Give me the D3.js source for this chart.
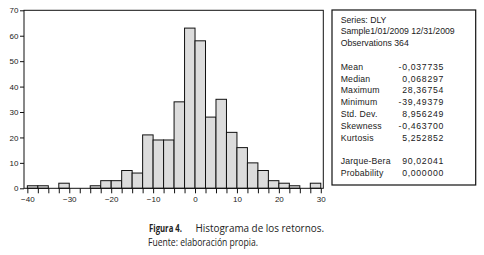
<!DOCTYPE html>
<html>
<head>
<meta charset="utf-8">
<script src="https://cdn.jsdelivr.net/npm/d3@7"></script>
<style>
  body { margin: 0; background: #fff; }
  svg { display: block; }
  .tick-label { font-family: "Liberation Sans", Arial, sans-serif; font-size: 8px; fill: #222; }
  .stat { font-family: "Liberation Sans", Arial, sans-serif; font-size: 8.7px; fill: #1a1a1a; }
  .caption { font-family: "Open Sans", "Liberation Sans", sans-serif; font-size: 11px; fill: #222; }
</style>
</head>
<body>
<div id="wrapper"></div>
<script>
// histogram of daily returns (bins of 2.5)
const binStarts = [
  -40, -37.5, -35, -32.5, -30, -27.5, -25, -22.5, -20, -17.5,
  -15, -12.5, -10, -7.5, -5, -2.5, 0, 2.5, 5, 7.5,
  10, 12.5, 15, 17.5, 20, 22.5, 25, 27.5,
];
const counts = [
  1, 1, 0, 2, 0, 0, 1, 3, 3, 7,
  6, 21, 19, 19, 34, 63, 58, 28, 35, 22,
  16, 10, 7, 3, 2, 1, 0, 2,
];
const binWidth = 2.5;
const xTickLabels = [-40, -30, -20, -10, 0, 10, 20, 30];
const yTickLabels = [0, 10, 20, 30, 40, 50, 60, 70];

// statistics panel
const headerLines = ["Series: DLY", "Sample1/01/2009 12/31/2009", "Observations 364"];
const statNames = ["Mean", "Median", "Maximum", "Minimum", "Std. Dev.", "Skewness", "Kurtosis"];
const statValues = ["-0,037735", "0,068297", "28,36754", "-39,49379", "8,956249", "-0,463700", "5,252852"];
const testNames = ["Jarque-Bera", "Probability"];
const testValues = ["90,02041", "0,000000"];

const captionBold = "Figura 4.";
const captionTitle = "Histograma de los retornos.";
const captionSource = "Fuente: elaboración propia.";

// dimensions
const width = 484;
const height = 255;
const plot = { left: 24, right: 323.3, top: 10.3, bottom: 188.3 };

const svg = d3.select("#wrapper")
  .append("svg")
    .attr("width", width)
    .attr("height", height);

// scales
const xScale = d3.scaleLinear()
  .domain([-40.8, 30.6])
  .range([plot.left, plot.right]);

const yScale = d3.scaleLinear()
  .domain([0, 70])
  .range([plot.bottom, plot.top]);

// bars
svg.append("g")
  .selectAll("rect")
  .data(binStarts)
  .join("rect")
    .attr("x", d => xScale(d))
    .attr("y", (d, i) => yScale(counts[i]))
    .attr("width", d => xScale(d + binWidth) - xScale(d))
    .attr("height", (d, i) => yScale(0) - yScale(counts[i]))
    .attr("fill", "#dcdcdc")
    .attr("stroke", "#111")
    .attr("stroke-width", 1)
    .attr("display", (d, i) => counts[i] > 0 ? null : "none");

// frame
svg.append("rect")
  .attr("x", plot.left)
  .attr("y", plot.top)
  .attr("width", plot.right - plot.left)
  .attr("height", plot.bottom - plot.top)
  .attr("fill", "none")
  .attr("stroke", "#111")
  .attr("stroke-width", 1);

// x axis: a tick at every bin edge, labels every 10
const xTicks = binStarts.concat([binStarts[binStarts.length - 1] + binWidth]);
const xAxis = d3.axisBottom(xScale)
  .tickValues(xTicks)
  .tickSize(5)
  .tickFormat(d => xTickLabels.includes(d) ? d3.format("")(d) : "");
svg.append("g")
  .attr("transform", `translate(0, ${plot.bottom})`)
  .call(xAxis)
  .call(g => g.select(".domain").remove())
  .call(g => g.selectAll("line").attr("stroke", "#111"))
  .call(g => g.selectAll("text")
    .attr("class", "tick-label")
    .attr("font-family", null)
    .attr("font-size", null)
    .attr("y", 8));

// y axis
const yAxis = d3.axisLeft(yScale)
  .tickValues(yTickLabels)
  .tickSize(4)
  .tickPadding(1.5);
svg.append("g")
  .attr("transform", `translate(${plot.left}, 0)`)
  .call(yAxis)
  .call(g => g.select(".domain").remove())
  .call(g => g.selectAll("line").attr("stroke", "#111"))
  .call(g => g.selectAll("text")
    .attr("class", "tick-label")
    .attr("font-family", null)
    .attr("font-size", null));

// statistics box
const box = { left: 332, right: 475.7, top: 10, bottom: 185 };
const textX = 340.7;
const valueX = 444;
const lineStep = 11.8;
const firstBaseline = 22.5;

svg.append("rect")
  .attr("x", box.left)
  .attr("y", box.top)
  .attr("width", box.right - box.left)
  .attr("height", box.bottom - box.top)
  .attr("fill", "none")
  .attr("stroke", "#111")
  .attr("stroke-width", 1.2);

const lineY = i => firstBaseline + i * lineStep;

svg.append("g")
  .selectAll("text")
  .data(headerLines)
  .join("text")
    .attr("class", "stat")
    .attr("x", textX)
    .attr("y", (d, i) => lineY(i))
    .text(d => d);

const statsStart = headerLines.length + 1;
const statsGroup = svg.append("g");
statsGroup.selectAll(".stat-name")
  .data(statNames)
  .join("text")
    .attr("class", "stat stat-name")
    .attr("x", textX)
    .attr("y", (d, i) => lineY(statsStart + i))
    .attr("letter-spacing", 0.2)
    .text(d => d);
statsGroup.selectAll(".stat-value")
  .data(statValues)
  .join("text")
    .attr("class", "stat stat-value")
    .attr("x", valueX)
    .attr("y", (d, i) => lineY(statsStart + i))
    .attr("text-anchor", "end")
    .attr("letter-spacing", 0.7)
    .text(d => d);

const testStart = statsStart + statNames.length + 1;
statsGroup.selectAll(".test-name")
  .data(testNames)
  .join("text")
    .attr("class", "stat test-name")
    .attr("x", textX)
    .attr("y", (d, i) => lineY(testStart + i))
    .attr("letter-spacing", 0.2)
    .text(d => d);
statsGroup.selectAll(".test-value")
  .data(testValues)
  .join("text")
    .attr("class", "stat test-value")
    .attr("x", valueX)
    .attr("y", (d, i) => lineY(testStart + i))
    .attr("text-anchor", "end")
    .attr("letter-spacing", 0.7)
    .text(d => d);

// caption (condensed serif-like look, forced to the reference widths)
svg.append("text")
  .attr("class", "caption")
  .attr("x", 149)
  .attr("y", 231.5)
  .attr("font-weight", "bold")
  .attr("textLength", 33)
  .attr("lengthAdjust", "spacingAndGlyphs")
  .text(captionBold);
svg.append("text")
  .attr("class", "caption")
  .attr("x", 195.5)
  .attr("y", 231.5)
  .attr("textLength", 128.5)
  .attr("lengthAdjust", "spacingAndGlyphs")
  .text(captionTitle);
svg.append("text")
  .attr("class", "caption")
  .attr("x", 148)
  .attr("y", 245.5)
  .attr("textLength", 110)
  .attr("lengthAdjust", "spacingAndGlyphs")
  .text(captionSource);
</script>
</body>
</html>
